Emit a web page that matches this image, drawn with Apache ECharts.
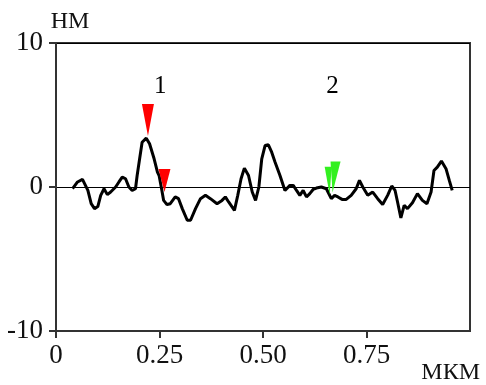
<!DOCTYPE html>
<html>
<head>
<meta charset="utf-8">
<script src="https://cdn.jsdelivr.net/npm/echarts@6/dist/echarts.min.js"></script>
<style>
  html, body { margin: 0; padding: 0; background: #fff; }
  #chart { width: 486px; height: 385px; }
</style>
</head>
<body>
<div id="chart"></div>
<script>
// profile (x in мкм, y in нм)
const profileX = [0.040, 0.052, 0.064, 0.077, 0.085, 0.093, 0.101, 0.108, 0.116, 0.124,
  0.132, 0.144, 0.152, 0.160, 0.168, 0.176, 0.184, 0.192, 0.196, 0.202,
  0.208, 0.218, 0.226, 0.237, 0.245, 0.249, 0.255, 0.260, 0.268, 0.276,
  0.288, 0.296, 0.305, 0.317, 0.325, 0.337, 0.349, 0.361, 0.373, 0.389,
  0.401, 0.409, 0.417, 0.431, 0.439, 0.447, 0.455, 0.465, 0.474, 0.482,
  0.490, 0.497, 0.505, 0.513, 0.521, 0.529, 0.541, 0.553, 0.565, 0.573,
  0.581, 0.589, 0.597, 0.605, 0.613, 0.621, 0.629, 0.641, 0.653, 0.665,
  0.673, 0.681, 0.691, 0.701, 0.713, 0.725, 0.733, 0.741, 0.753, 0.765,
  0.777, 0.789, 0.801, 0.811, 0.819, 0.825, 0.833, 0.841, 0.849, 0.861,
  0.873, 0.885, 0.896, 0.906, 0.913, 0.921, 0.931, 0.942, 0.950, 0.957];
const profileY = [-0.12, 0.35, 0.53, -0.24, -1.16, -1.50, -1.36, -0.58, -0.12, -0.53,
  -0.35, 0.0, 0.35, 0.69, 0.57, 0.0, -0.24, -0.12, 0.80, 1.96,
  3.11, 3.39, 3.0, 1.96, 1.04, 0.80, -0.12, -0.93, -1.22, -1.16,
  -0.69, -0.81, -1.50, -2.31, -2.31, -1.50, -0.81, -0.58, -0.81, -1.16,
  -0.93, -0.69, -1.04, -1.62, -0.58, 0.57, 1.31, 0.80, -0.35, -0.93,
  0.0, 1.96, 2.88, 2.93, 2.42, 1.73, 0.80, -0.24, 0.11, 0.11,
  -0.24, -0.58, -0.24, -0.69, -0.46, -0.17, -0.07, 0.0, -0.12, -0.81,
  -0.58, -0.69, -0.86, -0.86, -0.58, -0.12, 0.46, 0.0, -0.58, -0.35,
  -0.81, -1.22, -0.58, 0.07, -0.24, -1.04, -2.15, -1.27, -1.50, -1.09,
  -0.46, -0.93, -1.16, -0.35, 1.15, 1.38, 1.80, 1.27, 0.46, -0.24];

// triangle markers (tip positions)
const markerX = [0.222, 0.262, 0.661, 0.668];
const markerY = [3.55, -0.35, -0.53, -0.39];
const markerColor = ['#ff0000', '#ff0000', '#33f020', '#33f020'];

// number labels
const labelText = ['1', '2'];
const labelX = [0.252, 0.668];
const labelY = [7.0, 7.0];

const xTicks = [0, 0.25, 0.5, 0.75, 1];
const yTicks = [-10, 0, 10];

const serif = 'Liberation Serif';
const chart = echarts.init(document.getElementById('chart'));

const markerShapes = [
  { symbol: 'path://M0,0 L12,0 L6,32 Z', symbolSize: [12, 32], symbolOffset: [0, -16] },
  { symbol: 'path://M0,0 L12,0 L6,23 Z', symbolSize: [12, 23], symbolOffset: [0, -11.5] },
  { symbol: 'path://M0,0 L7,0 L5,28 Z', symbolSize: [7, 28], symbolOffset: [-1.5, -14] },
  { symbol: 'path://M0,0 L10,0 L2,31 Z', symbolSize: [10, 31], symbolOffset: [3, -15.5] }
];

chart.setOption({
  animation: false,
  grid: {
    left: 56, right: 16, top: 43, bottom: 53,
    show: true, borderColor: '#333', borderWidth: 2
  },
  xAxis: {
    type: 'value',
    min: xTicks[0], max: xTicks[xTicks.length - 1], interval: 0.25,
    name: 'МКМ',
    nameLocation: 'end',
    nameGap: 10,
    nameMoveOverlap: false,
    nameTextStyle: {
      fontFamily: serif, fontSize: 24, color: '#111',
      align: 'right', verticalAlign: 'top', padding: [30, 0, 0, 0]
    },
    axisLine: { onZero: false, lineStyle: { color: '#333', width: 2 } },
    axisTick: { show: true, length: 7, lineStyle: { color: '#333', width: 2 } },
    axisLabel: {
      fontFamily: serif, fontSize: 27, color: '#111', margin: 11,
      showMaxLabel: false,
      formatter: v => v === 0 ? '0' : (v >= 1 ? '' : v.toFixed(2))
    },
    splitLine: { show: false }
  },
  yAxis: {
    type: 'value',
    min: yTicks[0], max: yTicks[yTicks.length - 1], interval: 10,
    name: 'НМ',
    nameLocation: 'end',
    nameGap: 9,
    nameMoveOverlap: false,
    nameTextStyle: {
      fontFamily: serif, fontSize: 24, color: '#111',
      align: 'center', padding: [0, 0, 0, 28]
    },
    axisLine: { onZero: false, lineStyle: { color: '#333', width: 2 } },
    axisTick: { show: true, length: 7, lineStyle: { color: '#333', width: 2 } },
    axisLabel: { fontFamily: serif, fontSize: 27, color: '#111', margin: 13 },
    splitLine: { show: true, lineStyle: { color: '#000', width: 1 } }
  },
  series: [
    {
      type: 'line',
      data: profileX.map((x, i) => [x, profileY[i]]),
      symbol: 'none',
      lineStyle: { color: '#000', width: 3 },
      z: 3
    },
    {
      type: 'scatter',
      data: markerX.map((x, i) => Object.assign({
        value: [x, markerY[i]],
        itemStyle: { color: markerColor[i], opacity: 1 }
      }, markerShapes[i])),
      z: 4
    },
    {
      type: 'scatter',
      symbolSize: 1,
      itemStyle: { opacity: 0 },
      data: labelX.map((x, i) => ({ value: [x, labelY[i]], name: labelText[i] })),
      label: {
        show: true, position: 'inside', formatter: '{b}',
        fontFamily: serif, fontSize: 25, color: '#000', opacity: 1
      }
    }
  ]
});
</script>
</body>
</html>
